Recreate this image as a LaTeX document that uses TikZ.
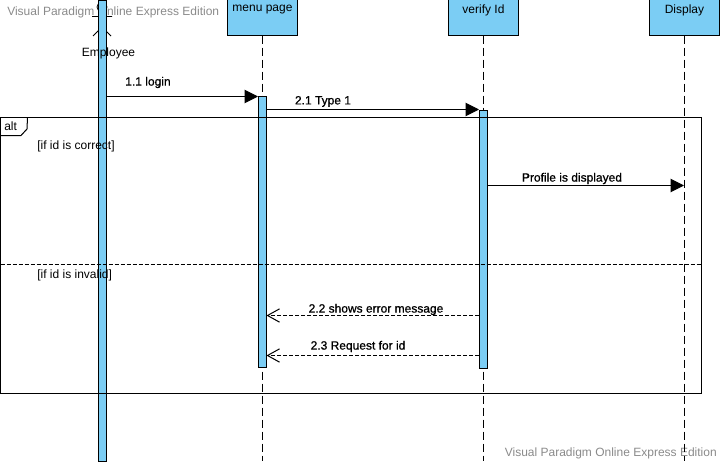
\documentclass[tikz,border=0pt]{standalone}
\usepackage{fontspec}
\setmainfont{Liberation Sans}
\newfontfamily\msgfont[FakeBold=0.8]{Liberation Sans}
\usetikzlibrary{arrows.meta}
\definecolor{barblue}{HTML}{7BCDF4}
\definecolor{markgray}{HTML}{8A8A8A}

\begin{document}
\begin{tikzpicture}[
    x = 0.75pt, y = -0.75pt,
    every node/.style = {font = \fontsize{9}{11}\selectfont, inner sep = 0pt},
    head/.style = {draw, line width = 0.75pt, fill = barblue, minimum width = 52.5pt, minimum height = 27pt, anchor = south},
    bar/.style = {draw, line width = 0.75pt, fill = barblue, anchor = north, minimum width = 6pt},
    lifeline/.style = {line width = 0.75pt, dash pattern = on 6pt off 3pt},
    syncmsg/.style = {line width = 0.75pt, -{Triangle[length = 10pt, width = 10pt]}},
    replymsg/.style = {line width = 0.75pt, dash pattern = on 3pt off 1.5pt, -{Straight Barb[length = 9pt, width = 10pt]}},
    msglabel/.style = {font = \fontsize{9}{11}\msgfont},
    guard/.style = {anchor = west},
    watermark/.style = {text = markgray, font = \fontsize{9}{11}\selectfont}
  ]
  \useasboundingbox (0,0) rectangle (722,464);

  \node [watermark, anchor = west] (MarkA) at (7,12.5) {Visual Paradigm Online Express Edition};
  \node [watermark, anchor = east] (MarkB) at (717,453.5) {Visual Paradigm Online Express Edition};

  % Actor
  \draw [line width = 0.6pt] (102,7) circle (5)
    (102,12) -- (102,27) (92,16.5) -- (112,16.5)
    (93,36) -- (102,27) -- (111,36);
  \node [bar, minimum height = 345.75pt, minimum width = 5.5pt] (EmployeeBar) at (102.5,0) {};
  \node (Employee) at (108.5,53) {Employee};

  % Heads and lifelines
  \node [head] (Menu) at (262.5,35.5) {};
  \node [head] (Verify) at (483.5,35.5) {};
  \node [head] (Display) at (684.5,35.5) {};
  \node at (262.5,10) {menu page};
  \node at (483.5,10) {verify Id};
  \node at (684.5,10) {Display};

  \coordinate (MenuEnd) at (262.5,461);
  \coordinate (VerifyEnd) at (483.5,461);
  \coordinate (DisplayEnd) at (684.5,461);
  \draw [lifeline] (Menu) -- (MenuEnd);
  \draw [lifeline] (Verify) -- (VerifyEnd);
  \draw [lifeline] (Display) -- (DisplayEnd);

  % Activation bars
  \node [bar, minimum height = 203.25pt] (MenuBar) at (262.5,95.5) {};
  \node [bar, minimum height = 193.5pt] (VerifyBar) at (483.5,109.5) {};

  % Frame
  \draw [line width = 0.75pt] (0.5,117.5) rectangle (701.5,393.5);
  \draw [line width = 0.75pt] (0.5,135.5) -- (21,135.5) -- (27,129) -- (27.5,117.5);
  \node [anchor = west] (Alt) at (4,126.5) {alt};
  \coordinate (SplitA) at (0.5,264.5);
  \coordinate (SplitB) at (701.5,264.5);
  \draw [dash pattern = on 3pt off 1.5pt, line width = 0.75pt] (SplitA) -- (SplitB);
  \node [guard] (GuardA) at (37,146) {[if id is correct]};
  \node [guard] (GuardB) at (37,275) {[if id is invalid]};

  % Messages
  \coordinate (LoginA) at (106,96.5);
  \coordinate (LoginB) at (258,96.5);
  \coordinate (TypeA) at (266.5,109.5);
  \coordinate (TypeB) at (479,109.5);
  \coordinate (ProfileA) at (487,185.5);
  \coordinate (ProfileB) at (684,185.5);
  \coordinate (ErrorA) at (479,315.5);
  \coordinate (ErrorB) at (266.5,315.5);
  \coordinate (RequestA) at (479,355.5);
  \coordinate (RequestB) at (266.5,355.5);
  \draw [syncmsg] (LoginA) -- (LoginB);
  \draw [syncmsg] (TypeA) -- (TypeB);
  \draw [syncmsg] (ProfileA) -- (ProfileB);
  \draw [replymsg] (ErrorA) -- (ErrorB);
  \draw [replymsg] (RequestA) -- (RequestB);
  \node [msglabel] (Login) at (148,82.5) {1.1 login};
  \node [msglabel] (Type) at (323,101.5) {2.1 Type 1};
  \node [msglabel] (Profile) at (572,178.5) {Profile is displayed};
  \node [msglabel] (Error) at (376,309.5) {2.2 shows error message};
  \node [msglabel] (Request) at (358,346.5) {2.3 Request for id};
\end{tikzpicture}
\end{document}
